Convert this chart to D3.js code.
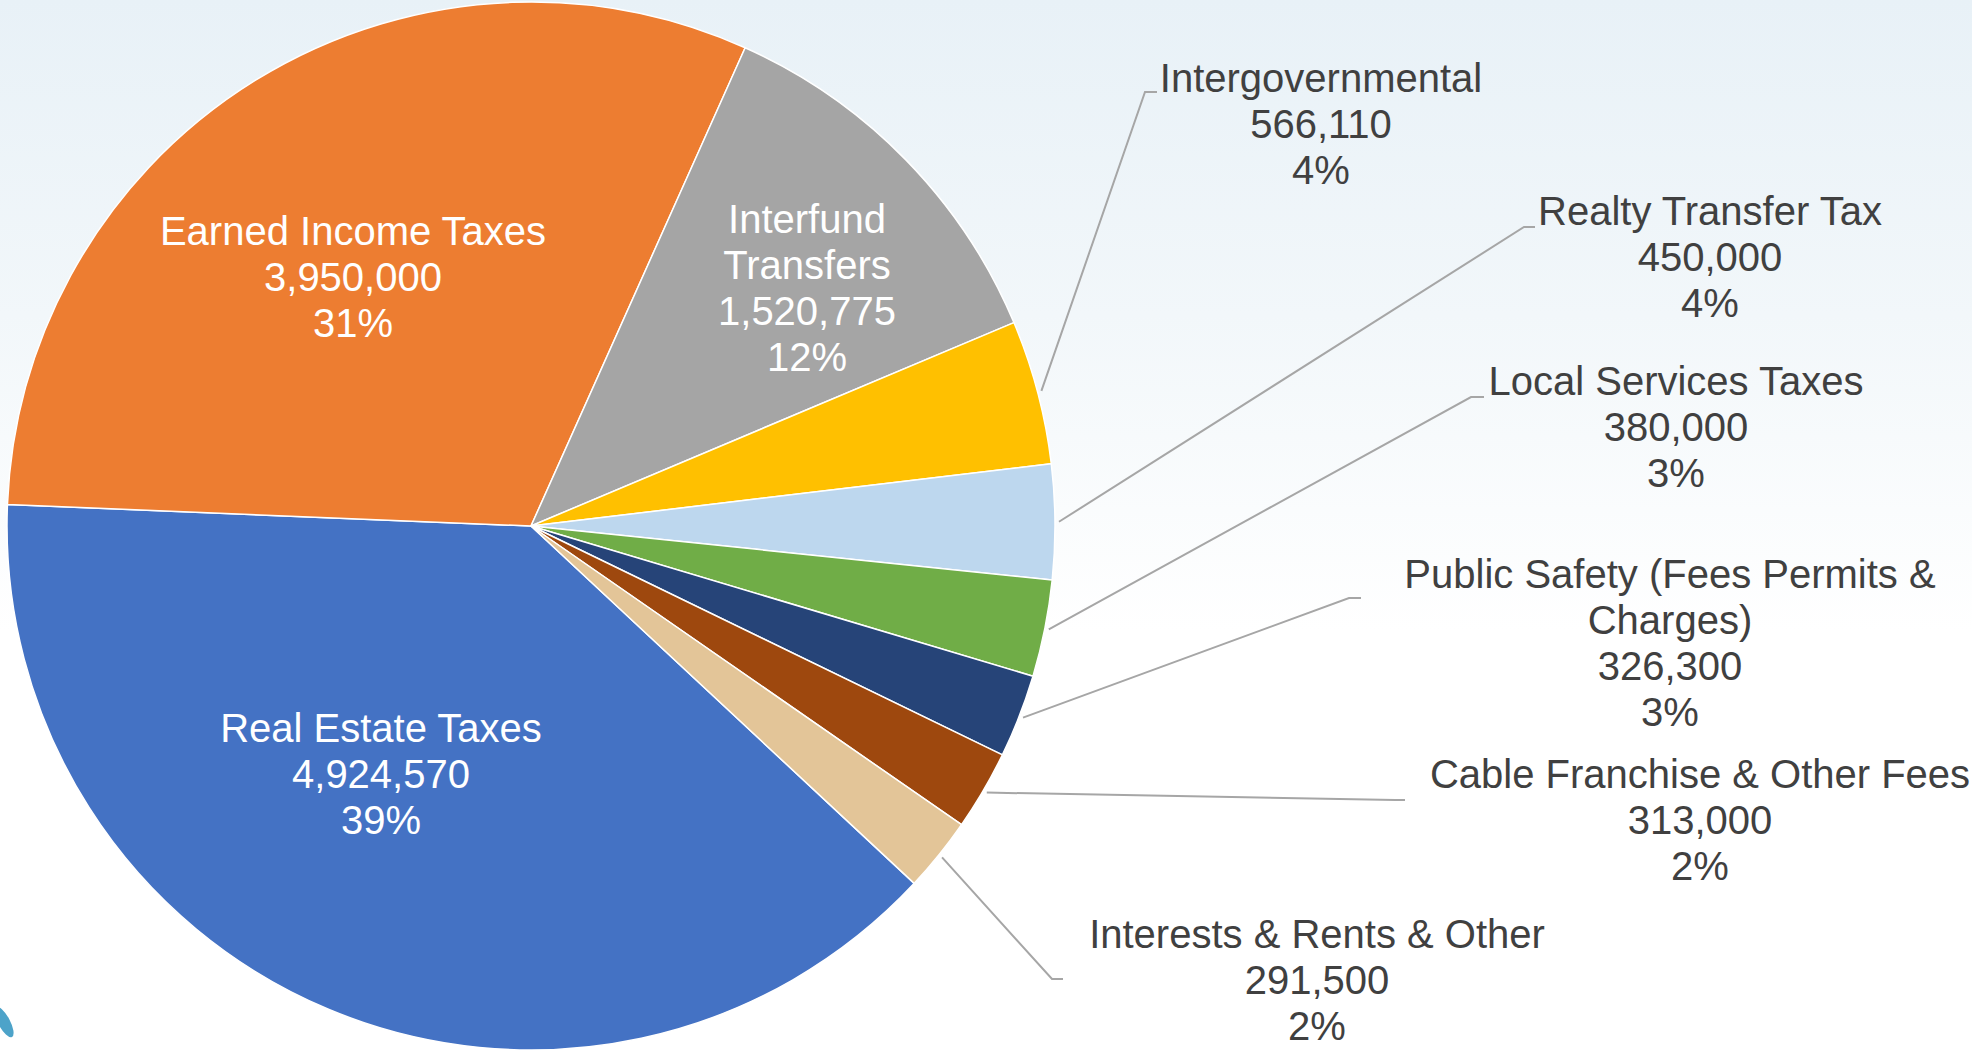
<!DOCTYPE html>
<html>
<head>
<meta charset="utf-8">
<script src="https://cdn.jsdelivr.net/npm/d3@7/dist/d3.min.js"></script>
<style>
  html, body { margin: 0; padding: 0; overflow: hidden; background: #fff; }
  svg { display: block; }
  text { font-family: "Liberation Sans", Arial, sans-serif; }
</style>
</head>
<body>
<svg id="chart" width="1972" height="1052"></svg>
<script>
// ---- data ----
const categories = [
  "Real Estate Taxes",
  "Earned Income Taxes",
  "Interfund Transfers",
  "Intergovernmental",
  "Realty Transfer Tax",
  "Local Services Taxes",
  "Public Safety (Fees Permits & Charges)",
  "Cable Franchise & Other Fees",
  "Interests & Rents & Other"
];
const values = [4924570, 3950000, 1520775, 566110, 450000, 380000, 326300, 313000, 291500];
const labelLines = [
  ["Real Estate Taxes"],
  ["Earned Income Taxes"],
  ["Interfund", "Transfers"],
  ["Intergovernmental"],
  ["Realty Transfer Tax"],
  ["Local Services Taxes"],
  ["Public Safety (Fees Permits &", "Charges)"],
  ["Cable Franchise & Other Fees"],
  ["Interests & Rents & Other"]
];
const colors = ["#4472c4", "#ed7d31", "#a5a5a5", "#ffc000", "#bdd7ee", "#70ad47", "#264478", "#9e480e", "#e3c598"];

// ---- layout (label placement, like Excel's manually positioned labels) ----
const cx = 531, cy = 526, R = 524;
const firstSliceAngle = 133; // degrees
const lineH = 46;
// inside: [centerX, firstBaseline]; outside: [centerX, firstBaseline, elbowX, elbowY, endX]
const labelLayout = [
  {inside: true, x: 381, y: 742},
  {inside: true, x: 353, y: 245},
  {inside: true, x: 807, y: 233},
  {inside: false, x: 1321, y: 92, ex: 1145, ey: 92, endX: 1157},
  {inside: false, x: 1710, y: 225, ex: 1524, ey: 227, endX: 1535},
  {inside: false, x: 1676, y: 395, ex: 1471, ey: 397, endX: 1484},
  {inside: false, x: 1670, y: 588, ex: 1349, ey: 598, endX: 1361},
  {inside: false, x: 1700, y: 788, ex: 1395, ey: 800, endX: 1405},
  {inside: false, x: 1317, y: 948, ex: 1052, ey: 979, endX: 1063}
];

const svg = d3.select("#chart");
const W = 1972, H = 1052;

// background gradient
const defs = svg.append("defs");
const grad = defs.append("linearGradient").attr("id", "bg").attr("x1", 0).attr("y1", 0).attr("x2", 0).attr("y2", 1);
grad.append("stop").attr("offset", "0%").attr("stop-color", "#e8f1f7");
grad.append("stop").attr("offset", "30%").attr("stop-color", "#f2f7fa");
grad.append("stop").attr("offset", "60%").attr("stop-color", "#ffffff");
grad.append("stop").attr("offset", "100%").attr("stop-color", "#ffffff");
svg.append("rect").attr("width", W).attr("height", H).attr("fill", "url(#bg)");

// logo fragment bottom-left
svg.append("ellipse")
  .attr("cx", 4).attr("cy", 1022).attr("rx", 6).attr("ry", 17)
  .attr("transform", "rotate(-28 4 1022)")
  .attr("fill", "#4da3c9");

const total = d3.sum(values);
const pctFmt = d3.format(".0%");
const numFmt = d3.format(",");

const a0 = firstSliceAngle * Math.PI / 180;
const pie = d3.pie().sort(null).value(d => d).startAngle(a0).endAngle(a0 + 2 * Math.PI);
const arcs = pie(values);
const arc = d3.arc().innerRadius(0).outerRadius(R);

const g = svg.append("g").attr("transform", `translate(${cx},${cy})`);
g.selectAll("path.slice")
  .data(arcs)
  .join("path")
  .attr("class", "slice")
  .attr("d", arc)
  .attr("fill", (d, i) => colors[i])
  .attr("stroke", "#ffffff")
  .attr("stroke-width", 1.5)
  .attr("stroke-linejoin", "round");

// leader lines
arcs.forEach((d, i) => {
  const L = labelLayout[i];
  if (L.inside) return;
  const mid = (d.startAngle + d.endAngle) / 2;
  const sx = cx + (R + 4) * Math.sin(mid);
  const sy = cy - (R + 4) * Math.cos(mid);
  svg.append("path")
    .attr("d", d3.line()([[sx, sy], [L.ex, L.ey], [L.endX, L.ey]]))
    .attr("fill", "none")
    .attr("stroke", "#a6a6a6")
    .attr("stroke-width", 2);
});

// labels
arcs.forEach((d, i) => {
  const L = labelLayout[i];
  const lines = labelLines[i].concat([numFmt(values[i]), pctFmt(values[i] / total)]);
  const t = svg.append("text")
    .attr("text-anchor", "middle")
    .attr("font-size", 40)
    .attr("fill", L.inside ? "#ffffff" : "#404040");
  lines.forEach((s, k) => {
    t.append("tspan").attr("x", L.x).attr("y", L.y + k * lineH).text(s);
  });
});
</script>
</body>
</html>
